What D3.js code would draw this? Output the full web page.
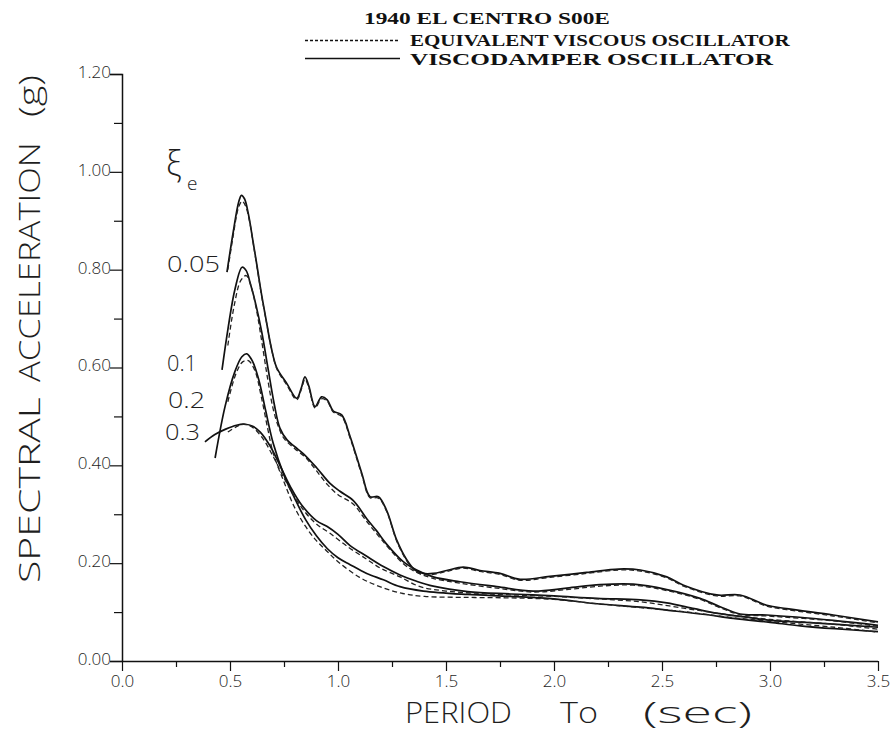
<!DOCTYPE html>
<html><head><meta charset="utf-8">
<script src="https://cdn.jsdelivr.net/npm/d3@7"></script>
<style>
body{margin:0;background:#fff;}
svg{display:block;}
.plotfont{font-family:"Open Sans","Liberation Sans",Arial,sans-serif;font-weight:300;fill:#1e1e1e;}
.serif{font-family:"Liberation Serif","Times New Roman",serif;font-weight:bold;fill:#111;}
</style></head>
<body>
<svg id="chart" width="895" height="734"></svg>
<script>
// ---- data (period T in sec, spectral acceleration in g) ----
const xTickLabels = ["0.0","0.5","1.0","1.5","2.0","2.5","3.0","3.5"];
const yTickLabels = ["0.00","0.20","0.40","0.60","0.80","1.00","1.20"];
const dampingLabels = ["0.05","0.1","0.2","0.3"];

const visco005 = [[0.486,0.795],[0.515,0.877],[0.54,0.938],[0.553,0.952],[0.567,0.945],[0.585,0.914],[0.605,0.862],[0.625,0.808],[0.645,0.752],[0.667,0.698],[0.69,0.643],[0.716,0.6],[0.762,0.568],[0.809,0.537],[0.83,0.558],[0.847,0.581],[0.865,0.562],[0.894,0.52],[0.924,0.54],[0.95,0.534],[0.978,0.511],[1.017,0.503],[1.056,0.459],[1.11,0.384],[1.148,0.336],[1.187,0.336],[1.225,0.308],[1.272,0.247],[1.318,0.207],[1.356,0.186],[1.395,0.179],[1.441,0.179],[1.503,0.185],[1.58,0.192],[1.657,0.185],[1.75,0.179],[1.843,0.167],[1.981,0.173],[2.151,0.181],[2.3,0.188],[2.4,0.186],[2.522,0.172],[2.6,0.155],[2.753,0.135],[2.861,0.135],[2.985,0.114],[3.077,0.107],[3.293,0.094],[3.5,0.08]];
const equiv005 = [[0.49,0.8],[0.515,0.87],[0.54,0.928],[0.556,0.94],[0.572,0.93],[0.59,0.9],[0.607,0.855],[0.627,0.8],[0.647,0.745],[0.669,0.692],[0.692,0.638],[0.718,0.596],[0.762,0.565],[0.809,0.534],[0.83,0.555],[0.847,0.576],[0.865,0.559],[0.894,0.517],[0.924,0.536],[0.95,0.531],[0.978,0.509],[1.017,0.5],[1.056,0.456],[1.11,0.381],[1.148,0.334],[1.187,0.333],[1.225,0.306],[1.272,0.245],[1.318,0.205],[1.356,0.184],[1.395,0.177],[1.441,0.177],[1.503,0.183],[1.58,0.19],[1.657,0.183],[1.75,0.177],[1.843,0.165],[1.981,0.171],[2.151,0.179],[2.3,0.186],[2.4,0.184],[2.522,0.17],[2.6,0.153],[2.753,0.133],[2.861,0.133],[2.985,0.112],[3.077,0.105],[3.293,0.092],[3.5,0.078]];

const visco01 = [[0.463,0.595],[0.491,0.68],[0.523,0.76],[0.556,0.805],[0.575,0.798],[0.595,0.77],[0.62,0.728],[0.648,0.67],[0.676,0.598],[0.704,0.527],[0.731,0.476],[0.764,0.452],[0.8,0.438],[0.839,0.424],[0.901,0.395],[0.963,0.363],[1.009,0.347],[1.071,0.328],[1.133,0.291],[1.179,0.266],[1.225,0.239],[1.302,0.203],[1.364,0.186],[1.441,0.172],[1.565,0.162],[1.735,0.152],[1.904,0.143],[2.059,0.149],[2.213,0.156],[2.367,0.157],[2.522,0.146],[2.676,0.128],[2.769,0.111],[2.861,0.096],[2.985,0.094],[3.293,0.083],[3.5,0.073]];
const equiv01 = [[0.49,0.645],[0.52,0.728],[0.55,0.778],[0.575,0.788],[0.6,0.762],[0.625,0.712],[0.65,0.645],[0.675,0.575],[0.7,0.515],[0.725,0.478],[0.75,0.455],[0.8,0.434],[0.85,0.416],[0.9,0.389],[0.95,0.361],[1.0,0.34],[1.07,0.321],[1.13,0.287],[1.2,0.249],[1.3,0.2],[1.36,0.182],[1.44,0.169],[1.565,0.159],[1.735,0.149],[1.904,0.141],[2.059,0.146],[2.213,0.153],[2.367,0.155],[2.522,0.144],[2.676,0.126],[2.769,0.109],[2.861,0.095],[2.985,0.092],[3.293,0.082],[3.5,0.071]];

const visco02 = [[0.431,0.415],[0.477,0.52],[0.523,0.592],[0.555,0.622],[0.578,0.628],[0.605,0.612],[0.635,0.572],[0.665,0.512],[0.7,0.445],[0.75,0.38],[0.8,0.332],[0.85,0.289],[0.9,0.256],[0.95,0.23],[1.0,0.211],[1.056,0.197],[1.133,0.179],[1.21,0.166],[1.287,0.152],[1.395,0.143],[1.6,0.136],[1.8,0.132],[2.0,0.127],[2.2,0.117],[2.4,0.11],[2.522,0.104],[2.7,0.095],[2.83,0.087],[3.0,0.079],[3.14,0.072],[3.3,0.066],[3.5,0.06]];
const equiv02 = [[0.49,0.53],[0.53,0.59],[0.56,0.612],[0.585,0.614],[0.615,0.594],[0.645,0.54],[0.675,0.474],[0.7,0.425],[0.75,0.366],[0.8,0.313],[0.85,0.275],[0.9,0.246],[0.95,0.224],[1.0,0.203],[1.1,0.171],[1.2,0.151],[1.3,0.138],[1.4,0.132],[1.6,0.13],[1.8,0.129],[2.0,0.126],[2.2,0.117],[2.4,0.109],[2.6,0.101],[2.8,0.09],[3.0,0.081],[3.3,0.069],[3.5,0.059]];

const visco03 = [[0.384,0.448],[0.43,0.463],[0.48,0.474],[0.53,0.482],[0.57,0.484],[0.605,0.48],[0.64,0.468],[0.685,0.44],[0.731,0.4],[0.78,0.356],[0.83,0.32],[0.9,0.287],[0.95,0.275],[1.0,0.259],[1.056,0.236],[1.133,0.214],[1.21,0.193],[1.287,0.176],[1.364,0.163],[1.441,0.153],[1.6,0.142],[1.8,0.137],[2.0,0.133],[2.2,0.128],[2.4,0.125],[2.522,0.119],[2.65,0.107],[2.75,0.098],[2.9,0.089],[3.0,0.083],[3.2,0.078],[3.5,0.069]];
const equiv03 = [[0.49,0.468],[0.53,0.479],[0.56,0.484],[0.6,0.479],[0.65,0.456],[0.7,0.418],[0.75,0.374],[0.8,0.335],[0.85,0.303],[0.9,0.28],[0.963,0.261],[1.05,0.232],[1.133,0.208],[1.2,0.189],[1.287,0.172],[1.38,0.152],[1.5,0.143],[1.7,0.137],[2.0,0.132],[2.2,0.127],[2.4,0.121],[2.6,0.108],[2.8,0.095],[3.0,0.085],[3.3,0.075],[3.5,0.065]];

const solidSeries = [visco005, visco01, visco02, visco03];
const dashedSeries = [equiv005, equiv01, equiv02, equiv03];

// ---- drawing ----
const svg = d3.select("#chart");
const x = d3.scaleLinear().domain([0,3.5]).range([122,878]);
const y = d3.scaleLinear().domain([0,1.2]).range([661,74]);

// helper: place text and squeeze it horizontally to a target width
function fitText(parent, str, tx, ty, width, size, cls, anchor, rot){
  const g = parent.append("g");
  const t = g.append("text").attr("class",cls).style("font-size",size+"px").text(str);
  const w = t.node().getComputedTextLength();
  const s = width / w;
  const ax = anchor==="middle" ? -w/2 : 0;
  t.attr("x",ax);
  g.attr("transform",`translate(${tx},${ty})${rot?` rotate(${rot})`:""} scale(${s},1)`);
  return t;
}

// axes
const yAxis = d3.axisLeft(y).tickValues(d3.range(0,1.2001,0.1)).tickSize(12)
  .tickFormat(d => { const k = Math.round(d*10); return k%2===0 ? yTickLabels[k/2] : ""; });
const gy = svg.append("g").attr("transform","translate(122,0)").call(yAxis);
gy.select(".domain").attr("d","M-12,74.5H0.5V661.5");
gy.selectAll(".tick line").attr("stroke","#111").attr("stroke-width",1.2)
  .attr("x2", d => Math.round(d*10)%2===0 ? -12 : -8);
gy.selectAll(".tick text").attr("class","plotfont").attr("x",-11).attr("dy","0.2em")
  .style("font-size","17px");

const xAxis = d3.axisBottom(x).tickValues(d3.range(0,3.5001,0.25)).tickSize(10)
  .tickFormat(d => { const k = Math.round(d*4); return k%2===0 ? xTickLabels[k/2] : ""; });
const gx = svg.append("g").attr("transform","translate(0,661)").call(xAxis);
gx.select(".domain").attr("d","M110,0.5H878");
gx.selectAll(".tick line").attr("stroke","#111").attr("stroke-width",1.2)
  .attr("y2", d => Math.round(d*4)%2===0 ? 10 : 6);
gx.selectAll(".tick text").attr("class","plotfont").attr("y",12).attr("dy","0.8em")
  .style("font-size","17px");
svg.selectAll(".domain").attr("stroke","#111").attr("stroke-width",1.5);

// curves
const line = d3.line().x(d => x(d[0])).y(d => y(d[1])).curve(d3.curveCatmullRom.alpha(0.5));
svg.append("g").selectAll("path").data(solidSeries).join("path")
  .attr("d", line).attr("fill","none").attr("stroke","#111").attr("stroke-width",1.7);
svg.append("g").selectAll("path").data(dashedSeries).join("path")
  .attr("d", line).attr("fill","none").attr("stroke","#222").attr("stroke-width",1.3)
  .attr("stroke-dasharray","5,3");

// damping labels
const labelPos = [[167,272,53],[167,371,30],[168,408,37],[165,440,35]];
dampingLabels.forEach((s,i)=> fitText(svg, s, labelPos[i][0], labelPos[i][1], labelPos[i][2], 22, "plotfont", "start"));
svg.append("text").attr("class","plotfont").attr("x",166).attr("y",176)
  .style("font-size","34px").text("ξ");
svg.append("text").attr("class","plotfont").attr("x",187).attr("y",190)
  .style("font-size","19px").text("e");

// axis titles
fitText(svg, "SPECTRAL", 40, 583, 186, 30, "plotfont", "start", -90);
fitText(svg, "ACCELERATION", 40, 382, 240, 30, "plotfont", "start", -90);
fitText(svg, "(g)", 40, 117, 42, 30, "plotfont", "start", -90);
fitText(svg, "PERIOD", 405, 723, 107, 30, "plotfont", "start");
fitText(svg, "To", 560, 723, 38, 30, "plotfont", "start");
fitText(svg, "(sec)", 643, 723, 109, 30, "plotfont", "start");

// title + legend
fitText(svg, "1940  EL CENTRO  S00E", 364, 24, 246, 16, "serif", "start");
svg.append("line").attr("x1",305).attr("x2",400).attr("y1",40.5).attr("y2",40.5)
  .attr("stroke","#111").attr("stroke-width",1.5).attr("stroke-dasharray","3,2");
fitText(svg, "EQUIVALENT VISCOUS OSCILLATOR", 410, 46, 380, 16, "serif", "start");
svg.append("line").attr("x1",305).attr("x2",400).attr("y1",58.5).attr("y2",58.5)
  .attr("stroke","#111").attr("stroke-width",1.5);
fitText(svg, "VISCODAMPER OSCILLATOR", 410, 65, 363, 16, "serif", "start");
</script>
</body></html>
